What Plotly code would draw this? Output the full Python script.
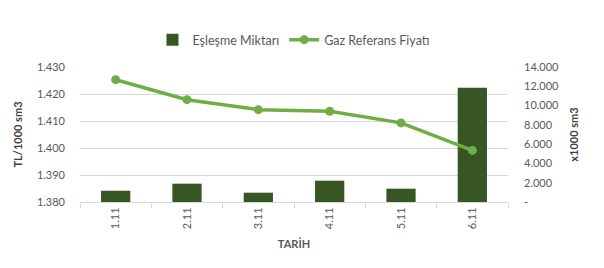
import plotly.graph_objects as go

categories = ["1.11", "2.11", "3.11", "4.11", "5.11", "6.11"]
eslesme_miktari = [1170, 1900, 965, 2210, 1380, 11850]
gaz_referans_fiyati = [1.4253, 1.4179, 1.4142, 1.4136, 1.4093, 1.3991]
left_ticks = [1.380, 1.390, 1.400, 1.410, 1.420, 1.430]
right_tickvals = [0, 2000, 4000, 6000, 8000, 10000, 12000, 14000]
right_ticktext = ["-", "2.000", "4.000", "6.000", "8.000", "10.000", "12.000", "14.000"]

FONT = "Lato"
GRAY = "#595959"

fig = go.Figure()
fig.add_trace(go.Bar(
    x=categories, y=eslesme_miktari, name="Eşleşme Miktarı",
    marker=dict(color="#375623", line=dict(width=0)), width=0.41,
    yaxis="y",
))
fig.add_trace(go.Scatter(
    x=categories, y=gaz_referans_fiyati, name="Gaz Referans Fiyatı",
    mode="lines+markers", line=dict(color="#70AD47", width=3.5),
    marker=dict(color="#70AD47", size=9), yaxis="y2",
))

fig.update_layout(
    width=604, height=268,
    margin=dict(l=80, r=96, t=67, b=66),
    paper_bgcolor="white", plot_bgcolor="white",
    font=dict(family=FONT, size=11, color=GRAY),
    showlegend=True,
    legend=dict(orientation="h", x=0.5, xanchor="center", y=1.2, yanchor="middle",
                font=dict(size=12.5, color=GRAY), itemwidth=30, traceorder="normal"),
    bargap=0.59,
    xaxis=dict(
        type="category", showgrid=False, showline=True, linecolor="#D9D9D9", linewidth=1,
        ticks="outside", tickson="boundaries", ticklen=5, tickcolor="#D9D9D9",
        tickangle=-90, tickfont=dict(size=11, color=GRAY),
        title=dict(text="TARİH", font=dict(size=11, color=GRAY, weight="bold"), standoff=12),
    ),
    yaxis=dict(
        side="right", range=[0, 14000], tickvals=right_tickvals, ticktext=right_ticktext,
        showgrid=False, zeroline=False, showline=False, ticks="", ticklabelstandoff=15,
        tickfont=dict(size=11, color=GRAY),
        title=dict(text="x1000 sm3", font=dict(size=11, color="#404040", weight="bold"), standoff=12),
    ),
    yaxis2=dict(
        overlaying="y", side="left", range=[1.380, 1.430], tickvals=left_ticks,
        tickformat=".3f", showgrid=True, gridcolor="#D9D9D9", gridwidth=1,
        zeroline=False, showline=False, ticks="", ticklabelstandoff=14,
        tickfont=dict(size=11, color=GRAY),
        title=dict(text="TL/1000 sm3", font=dict(size=11, color="#404040", weight="bold"), standoff=12),
    ),
)

fig.write_html("out.html")
